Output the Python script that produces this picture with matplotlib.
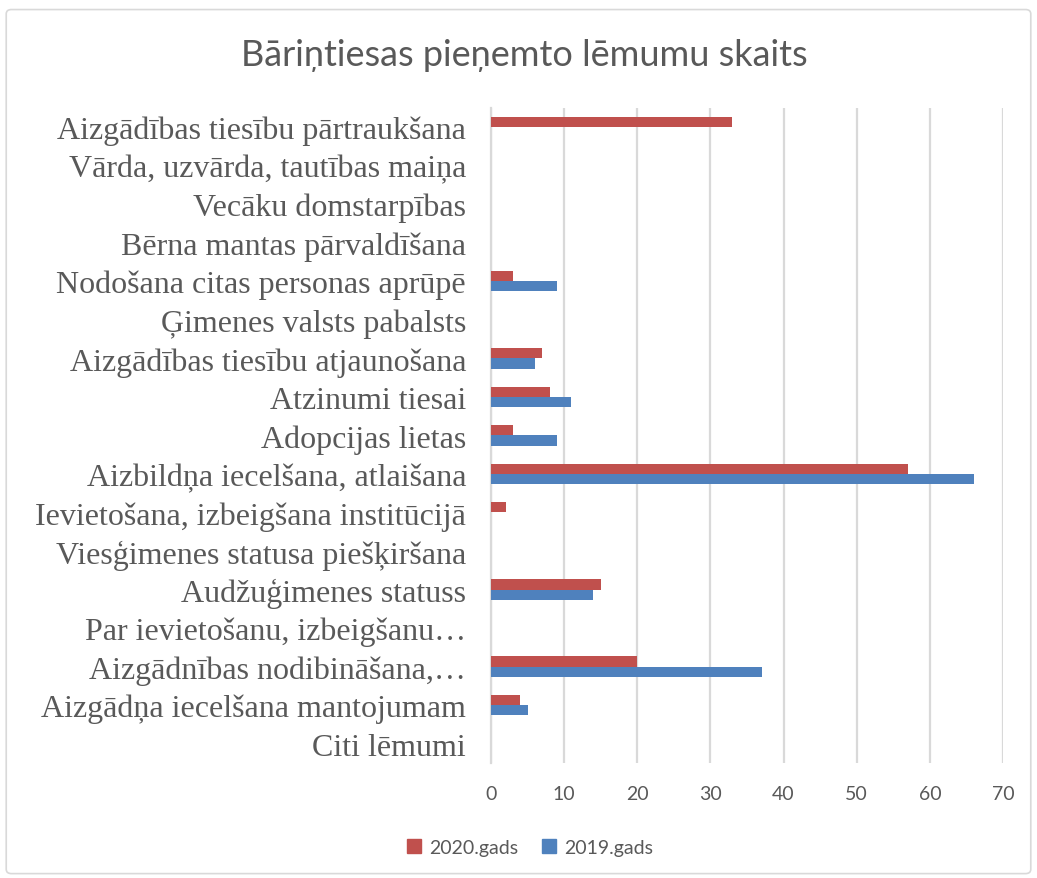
import numpy as np
import matplotlib
matplotlib.use("Agg")
from matplotlib import pyplot as plt
from matplotlib.patches import FancyBboxPatch, Patch

# categories, top to bottom as on the chart
categories = [
    "Aizgādības tiesību pārtraukšana",
    "Vārda, uzvārda, tautības maiņa",
    "Vecāku domstarpības",
    "Bērna mantas pārvaldīšana",
    "Nodošana citas personas aprūpē",
    "Ģimenes valsts pabalsts",
    "Aizgādības tiesību atjaunošana",
    "Atzinumi tiesai",
    "Adopcijas lietas",
    "Aizbildņa iecelšana, atlaišana",
    "Ievietošana, izbeigšana institūcijā",
    "Viesģimenes statusa piešķiršana",
    "Audžuģimenes statuss",
    "Par ievietošanu, izbeigšanu…",
    "Aizgādnības nodibināšana,…",
    "Aizgādņa iecelšana mantojumam",
    "Citi lēmumi",
]
gads_2020 = [33, 0, 0, 0, 3, 0, 7, 8, 3, 57, 2, 0, 15, 0, 20, 4, 0]
gads_2019 = [0, 0, 0, 0, 9, 0, 6, 11, 9, 66, 0, 0, 14, 0, 37, 5, 0]
series_names = ["2020.gads", "2019.gads"]

red = "#C0504D"
blue = "#4F81BD"
grid_c = "#D9D9D9"
txt_c = "#595959"

fig = plt.figure(figsize=(10.37, 8.79), dpi=100)
ax = fig.add_axes([0.4735, 0.1308, 0.4937, 0.7455])

y = np.arange(len(categories))
h = 0.265
ax.barh(y - h / 2, gads_2020, height=h, color=red, zorder=3)
ax.barh(y + h / 2, gads_2019, height=h, color=blue, zorder=3)

ax.set_xlim(0, 70)
ax.set_ylim(len(categories) - 0.5, -0.5)
ax.set_xticks(range(0, 71, 10))
ax.set_yticks(y)
ax.set_yticklabels(categories, family="Liberation Serif", fontsize=23, color=txt_c)
for lab in ax.get_xticklabels():
    lab.set_family("Lato")
    lab.set_fontsize(14)
    lab.set_color(txt_c)
ax.tick_params(axis="both", length=0)
ax.tick_params(axis="x", pad=16)
ax.tick_params(axis="y", pad=18)
ax.xaxis.grid(True, color=grid_c, linewidth=1.6, zorder=0)
for s in ["top", "right", "bottom"]:
    ax.spines[s].set_visible(False)
ax.spines["left"].set_color(grid_c)
ax.spines["left"].set_linewidth(1.6)

fig.text(0.506, 0.937, "Bāriņtiesas pieņemto lēmumu skaits", ha="center", va="center",
         family="Lato", fontsize=26, color=txt_c)

handles = [Patch(color=red), Patch(color=blue)]
fig.legend(handles, series_names, loc="center", bbox_to_anchor=(0.511, 0.035), ncol=2,
           frameon=False, prop={"family": "Lato", "size": 14}, labelcolor=txt_c,
           handlelength=0.75, handleheight=0.75, handletextpad=0.4, columnspacing=1.2)

border = FancyBboxPatch((0.006, 0.005), 0.988, 0.983, boxstyle="round,pad=0,rounding_size=0.005",
                        transform=fig.transFigure, fill=False, edgecolor=grid_c, linewidth=1.2)
fig.patches.append(border)

fig.savefig("out.png", dpi=100)
